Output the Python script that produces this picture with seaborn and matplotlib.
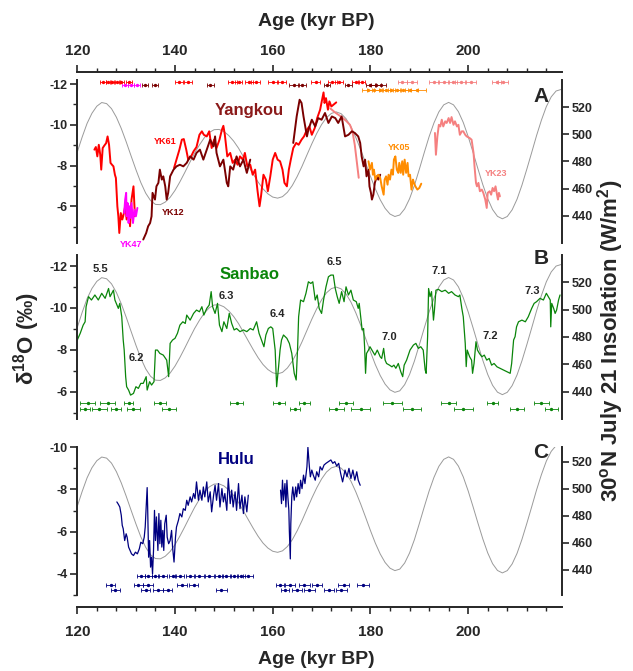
import matplotlib
matplotlib.use("Agg")
import matplotlib.pyplot as plt
from matplotlib.ticker import MultipleLocator
import seaborn as sns

# 30N July 21 insolation (W/m2), every 1 kyr
ins_age = list(range(120, 220))
ins_wm2 = [487, 498, 508, 515.5, 520.7, 523.4, 522.6, 518.9, 512.6, 504.3,
           494.6, 484.2, 474.0, 464.5, 456.7, 451.2, 448.4, 448.2, 450.1, 453.6,
           458.7, 465.0, 471.9, 479.1, 486.1, 492.2, 497.5, 501.3, 503.4, 503.6,
           502.1, 499.1, 495.0, 489.8, 483.5, 477.1, 470.8, 464.9, 459.9, 456.2,
           453.8, 453.0, 454.1, 457.3, 462.3, 468.9, 476.5, 484.8, 493.0, 500.6,
           507.2, 512.3, 515.4, 516.5, 515.2, 511.5, 505.6, 497.7, 488.7, 479.0,
           469.1, 459.8, 451.8, 445.5, 441.3, 439.5, 440.6, 445.1, 452.5, 462.4,
           474.2, 486.4, 498.2, 508.4, 516.5, 521.7, 523.5, 521.7, 516.7, 508.7,
           498.4, 486.7, 474.6, 462.9, 452.6, 444.6, 439.6, 437.8, 439.5, 444.4,
           452.2, 462.5, 474.3, 486.6, 499.1, 510.5, 520.4, 527.6, 531.9, 533.0]

# ---- Yangkou ----
yk61a_age = [123.5, 123.8, 124.1, 124.4, 124.7, 124.9, 125.2, 125.5, 125.9, 126.2,
             126.5, 126.8, 127.1, 127.4, 127.7, 127.9, 128.2, 128.4, 128.6, 128.9,
             129.2, 129.4, 129.8, 130.1, 130.5, 130.8, 131.1, 131.5, 131.8]
yk61a_d18o = [-8.78, -8.91, -8.45, -9.02, -8.53, -7.80, -8.86, -8.97, -9.10, -9.43,
              -9.02, -8.13, -8.04, -7.96, -7.55, -7.39, -6.00, -5.51, -4.69, -5.67,
              -5.35, -5.51, -6.00, -5.35, -5.84, -5.02, -6.33, -6.98, -5.51]
yk61b_age = [139.8, 140.3, 140.9, 141.4, 141.8, 142.3, 142.7, 143.3, 143.8, 144.4,
             145.0, 145.5, 145.9, 146.5, 147.0, 147.5, 148.0, 148.5, 149.1, 149.6,
             149.9, 150.2, 150.7, 151.3, 151.8, 152.3, 152.8, 153.3, 153.9, 154.3,
             154.8, 155.4, 155.9, 156.4, 156.9, 157.3, 157.6, 158.1, 158.6, 159.0,
             159.5, 160.0, 160.5, 161.0, 161.5, 162.0, 162.4, 162.9, 163.3, 163.7,
             164.2, 164.8, 165.3, 165.9, 166.4, 167.0, 167.5, 168.0, 168.6, 169.1,
             169.7, 170.1, 170.4, 170.6, 170.9, 171.3, 171.6, 172.0, 172.4, 173.0]
yk61b_d18o = [-7.88, -8.29, -8.78, -9.27, -9.30, -8.78, -8.29, -8.45, -8.70, -8.91,
              -9.51, -9.68, -9.51, -9.43, -9.68, -8.86, -9.27, -8.86, -9.27, -9.76,
              -9.95, -9.51, -8.45, -8.62, -8.13, -8.29, -8.04, -8.45, -8.29, -8.62,
              -7.96, -8.04, -7.55, -7.80, -6.74, -6.00, -6.49, -7.55, -7.31, -6.74,
              -7.47, -8.29, -8.62, -8.29, -8.21, -7.80, -7.15, -6.98, -7.80, -8.29,
              -8.86, -9.11, -9.02, -9.27, -9.43, -9.76, -9.92, -9.51, -9.84, -10.33,
              -10.74, -11.23, -11.59, -11.07, -11.31, -10.74, -11.15, -10.90, -10.98, -11.10]
yk12a_age = [133.5, 134.1, 134.5, 134.9, 135.2, 135.4, 135.9, 136.2, 136.6, 136.9,
             137.3, 137.6, 138.0, 138.3, 138.6, 139.0, 139.7, 140.3, 141.0, 141.7,
             142.4, 143.1, 143.8, 144.4, 145.1, 145.8, 146.5, 147.2, 147.9, 148.2,
             148.5, 149.2, 149.9, 150.6, 150.9, 151.3, 151.9, 152.6, 153.3, 154.0,
             154.7, 155.4]
yk12a_d18o = [-4.37, -4.69, -5.02, -5.18, -5.51, -6.66, -6.33, -6.98, -7.15, -7.80,
              -7.31, -7.47, -6.98, -6.33, -6.66, -7.47, -7.80, -7.96, -8.04, -7.96,
              -8.13, -8.45, -8.29, -8.62, -8.78, -8.29, -8.78, -9.27, -8.94, -9.43,
              -8.62, -7.96, -8.29, -7.15, -6.98, -7.96, -7.80, -8.45, -7.96, -8.29,
              -7.64, -8.29]
yk12b_age = [164.2, 164.9, 165.5, 165.9, 166.3, 167.0, 167.3, 168.0, 168.7, 169.3,
             170.0, 170.7, 171.4, 172.1, 172.8, 173.4, 174.1, 174.8, 175.5, 176.2,
             176.8, 177.5, 177.9, 178.2, 178.6, 178.9, 179.2, 179.6, 179.8, 180.1,
             180.3, 180.6, 180.9, 181.3, 181.6, 182.0]
yk12b_d18o = [-9.11, -10.41, -11.23, -11.07, -10.41, -9.43, -9.76, -10.25, -9.92, -10.33,
              -10.25, -10.58, -10.09, -10.41, -10.33, -10.09, -10.41, -9.43, -9.51, -9.68,
              -9.60, -9.43, -9.11, -8.45, -7.96, -8.29, -7.47, -7.80, -6.98, -6.66,
              -6.33, -6.57, -7.15, -7.47, -7.31, -7.55]
yk47_age = [129.6, 129.8, 130.0, 130.1, 130.3, 130.5, 130.7, 130.9, 131.1, 131.4,
            131.7, 132.0, 132.3]
yk47_d18o = [-5.67, -6.33, -6.66, -5.51, -6.16, -5.18, -6.00, -5.43, -6.16, -5.18,
             -5.84, -5.51, -5.92]
yk05_age = [179.6, 179.9, 180.3, 180.5, 180.7, 181.0, 181.3, 181.6, 182.0, 182.3,
            182.7, 182.9, 183.2, 183.5, 183.7, 184.0, 184.3, 184.6, 184.8, 185.1,
            185.4, 185.7, 185.9, 186.2, 186.5, 186.7, 187.0, 187.3, 187.6, 187.8,
            188.1, 188.4, 188.7, 188.9, 189.2, 189.6, 190.0, 190.4]
yk05_d18o = [-8.21, -7.80, -8.13, -7.55, -7.80, -7.31, -7.47, -7.55, -7.39, -6.98,
             -6.57, -7.31, -7.47, -7.06, -7.55, -7.31, -7.80, -7.55, -8.29, -8.45,
             -7.80, -7.64, -8.13, -7.64, -8.21, -7.55, -8.29, -7.64, -8.13, -7.47,
             -7.55, -6.82, -7.31, -7.15, -6.98, -6.82, -6.90, -7.11]
yk23a_age = [171.8, 172.8, 174.0, 175.0, 175.8, 176.3, 176.8, 177.2, 177.6]
yk23a_d18o = [-10.8, -10.6, -10.4, -10.2, -10.0, -9.7, -9.0, -8.2, -7.4]
yk23b_age = [193.2, 193.4, 193.7, 194.0, 194.3, 194.6, 194.9, 195.3, 195.6, 196.0,
             196.3, 196.6, 197.0, 197.3, 197.7, 198.0, 198.3, 198.7, 199.0, 199.4,
             199.7, 200.3, 200.7, 201.1, 201.3, 201.6, 201.8, 202.1, 202.4, 202.8,
             203.1, 203.5, 203.8, 204.0, 204.4, 204.7, 205.0, 205.3, 205.6, 205.9,
             206.1, 206.3, 206.5]
yk23b_d18o = [-9.60, -8.53, -9.43, -10.00, -9.92, -10.25, -9.92, -10.17, -10.09, -10.33,
              -10.09, -10.38, -10.00, -10.17, -9.92, -10.00, -9.51, -9.68, -9.68, -9.51,
              -9.43, -9.35, -9.27, -8.62, -7.96, -7.15, -6.98, -7.15, -6.74, -6.82,
              -6.66, -6.33, -5.92, -6.66, -6.74, -6.57, -6.90, -6.74, -6.98, -6.57,
              -6.33, -6.66, -6.49]

# U-Th dates (age, 2-sigma half width) drawn as the small bars along the top
yk61_dates = [125.3, 126.3, 127.2, 128.2, 129.0, 130.6, 140.8, 142.6, 151.7, 153.0,
              155.2, 156.5, 160.0, 161.8, 168.8, 172.2, 173.5, 177.0, 178.2]
yk61_err = [0.6, 0.5, 0.5, 0.6, 0.5, 0.6, 0.8, 0.8, 0.9, 0.7,
            0.8, 0.9, 1.0, 1.0, 0.9, 0.9, 0.8, 0.7, 0.7]
yk47_dates = [129.8, 131.0, 132.2]
yk47_err = [0.6, 0.6, 0.6]
yk12_dates = [133.9, 135.9, 147.2, 164.3, 166.0, 171.1, 175.5, 180.0, 181.2, 182.2]
yk12_err = [0.6, 0.6, 0.7, 1.0, 0.9, 0.7, 0.8, 1.0, 1.0, 1.0]
yk05_dates = [179.5, 180.8, 182.0, 183.2, 184.3, 185.5, 186.7, 188.0, 189.5]
yk05_err = [1.3, 1.5, 1.6, 1.4, 1.7, 1.5, 1.6, 1.8, 1.9]
yk23_dates = [186.5, 188.5, 193.0, 195.0, 196.8, 198.5, 200.5, 205.8, 207.2]
yk23_err = [0.9, 1.0, 1.0, 1.1, 1.0, 1.1, 1.2, 1.0, 1.0]

# ---- Sanbao ----
sanbao_age = [120.0, 120.6, 121.2, 121.6, 121.8, 122.3, 122.9, 123.6, 124.3, 125.0,
              125.7, 126.4, 126.7, 127.4, 127.7, 128.4, 128.7, 129.1, 129.4, 129.6,
              129.9, 130.1, 130.5, 130.9, 131.5, 132.0, 132.5, 133.0, 133.5, 134.1,
              134.3, 134.8, 135.2, 135.7, 136.0, 136.4, 136.9, 137.6, 138.3, 138.7,
              139.0, 139.5, 140.0, 140.5, 141.0, 141.6, 142.1, 142.4, 143.1, 143.8,
              144.4, 145.0, 145.5, 145.9, 146.5, 147.0, 147.4, 147.7, 148.2, 148.7,
              149.1, 149.6, 150.0, 150.6, 151.1, 151.6, 152.1, 152.6, 153.3, 154.0,
              154.7, 155.4, 156.0, 156.7, 157.2, 157.7, 158.2, 158.6, 159.1, 159.6,
              160.0, 160.5, 160.8, 161.2, 161.5, 161.8, 162.2, 162.9, 163.4, 163.9,
              164.4, 164.8, 165.1, 165.3, 165.7, 166.3, 166.8, 167.3, 167.8, 168.2,
              168.7, 169.1, 169.5, 170.0, 170.4, 170.9, 171.4, 171.9, 172.4, 172.8,
              173.2, 173.6, 174.1, 174.6, 175.0, 175.5, 176.0, 176.5, 177.1, 177.5,
              177.7, 178.0, 178.3, 178.6, 178.8, 179.0, 179.2, 179.6, 179.9, 180.5,
              180.9, 181.4, 182.0, 182.3, 182.7, 183.0, 183.3, 183.9, 184.4, 184.8,
              185.2, 185.7, 186.2, 186.6, 186.9, 187.4, 188.1, 188.8, 189.3, 189.8,
              190.3, 190.8, 191.2, 191.4, 191.7, 191.9, 192.2, 192.5, 192.9, 193.1,
              193.4, 193.9, 194.6, 195.3, 196.0, 196.6, 197.3, 198.0, 198.3, 198.7,
              199.0, 199.4, 199.6, 199.8, 200.3, 200.7, 200.9, 201.2, 201.6, 201.9,
              202.3, 202.8, 203.3, 203.8, 204.3, 204.8, 205.3, 205.9, 206.5, 207.2,
              207.9, 208.6, 208.9, 209.3, 209.6, 209.9, 210.3, 211.0, 211.7, 212.3,
              213.0, 213.5, 214.0, 214.7, 215.4, 216.0, 216.4, 216.8, 216.9, 217.1,
              217.5, 217.8, 218.1, 218.5, 218.8]
sanbao_d18o = [-8.47, -8.79, -9.18, -9.34, -10.06, -10.54, -10.38, -10.62, -10.38, -10.70,
               -10.46, -10.93, -10.54, -10.85, -10.38, -9.98, -10.22, -9.58, -8.47, -7.99,
               -6.72, -6.24, -6.08, -5.84, -5.92, -6.24, -6.16, -6.40, -6.40, -6.72,
               -6.08, -6.48, -6.32, -6.48, -7.99, -7.99, -7.83, -7.75, -7.51, -6.72,
               -8.31, -8.47, -8.55, -8.79, -9.18, -9.34, -9.26, -9.66, -9.42, -9.74,
               -9.90, -9.82, -10.06, -9.66, -9.98, -10.14, -10.78, -10.06, -9.74, -10.22,
               -9.18, -8.87, -9.34, -9.02, -9.74, -9.26, -8.95, -9.02, -8.87, -8.95,
               -8.87, -9.02, -8.95, -9.34, -8.79, -8.47, -8.15, -8.71, -9.02, -9.10,
               -9.02, -7.99, -6.24, -7.20, -7.99, -8.47, -8.71, -8.55, -8.31, -7.83,
               -6.88, -6.56, -8.15, -9.58, -10.38, -10.30, -10.70, -11.25, -11.17, -11.25,
               -10.38, -10.62, -9.98, -9.74, -10.38, -11.01, -11.49, -11.57, -11.57, -10.93,
               -10.54, -10.22, -10.78, -10.30, -11.01, -10.62, -10.85, -10.38, -10.30, -9.98,
               -10.22, -9.58, -8.95, -9.02, -8.15, -6.88, -7.83, -7.99, -8.15, -7.91,
               -7.75, -7.99, -7.67, -7.59, -8.07, -7.51, -7.35, -7.27, -7.19, -7.27,
               -7.12, -7.35, -6.96, -6.72, -7.27, -7.51, -7.99, -8.23, -8.31, -8.07,
               -8.15, -7.99, -7.04, -6.88, -8.63, -10.93, -10.54, -10.78, -9.42, -9.90,
               -10.85, -10.89, -10.78, -10.85, -10.70, -10.78, -10.62, -10.54, -10.62, -9.98,
               -9.58, -8.31, -7.20, -7.99, -7.67, -7.51, -6.88, -7.35, -8.39, -7.99,
               -7.83, -7.67, -7.75, -7.51, -7.59, -7.27, -7.35, -7.19, -7.12, -7.04,
               -6.96, -6.88, -7.35, -8.47, -8.63, -9.10, -9.34, -9.42, -9.34, -9.58,
               -9.98, -10.22, -10.30, -10.46, -10.38, -10.70, -10.54, -10.38, -9.10, -10.22,
               -9.98, -9.74, -9.90, -10.38, -10.62]
sanbao_dates1 = [122.1, 126.2, 130.5, 137.0, 152.6, 161.3, 166.5, 175.0, 184.5, 196.0, 205.0, 215.0]
sanbao_err1 = [1.5, 1.5, 1.0, 1.2, 1.3, 1.3, 1.2, 1.5, 2.0, 1.5, 1.2, 1.5]
sanbao_dates2 = [121.5, 124.5, 128.0, 131.5, 138.8, 164.5, 173.0, 178.0, 188.5, 199.0, 210.0, 217.0]
sanbao_err2 = [1.0, 1.5, 1.0, 1.3, 1.5, 1.0, 1.5, 2.0, 1.8, 2.0, 1.5, 1.3]

# ---- Hulu ----
hulua_age = [128.1, 128.4, 128.7, 129.0, 129.2, 129.4, 129.7, 130.0, 130.2, 130.5,
             130.8, 131.1, 131.5, 131.9, 132.3, 132.7, 133.0, 133.4, 133.7, 133.9,
             134.1, 134.3, 134.4, 134.6, 134.8, 135.0, 135.2, 135.4, 135.6, 135.8,
             136.0, 136.2, 136.5, 136.7, 136.9, 137.1, 137.3, 137.5, 137.7, 137.9,
             138.2, 138.4, 138.7, 139.0, 139.3, 139.5, 139.8, 140.1, 140.3, 140.7,
             141.0, 141.4, 141.7, 142.1, 142.4, 142.7, 143.1, 143.4, 143.8, 144.1,
             144.4, 144.8, 145.1, 145.5, 145.8, 146.1, 146.5, 146.8, 147.2, 147.5,
             147.9, 148.2, 148.5, 148.9, 149.2, 149.6, 149.9, 150.2, 150.6, 150.9,
             151.3, 151.6, 151.9, 152.3, 152.6, 153.0, 153.3, 153.7, 154.0, 154.3,
             154.7, 155.0]
hulua_d18o = [-7.41, -7.30, -7.17, -6.78, -6.30, -6.14, -5.58, -5.90, -5.74, -5.27,
              -5.11, -4.95, -4.87, -5.03, -4.95, -5.19, -5.50, -5.43, -5.74, -6.22,
              -7.17, -8.09, -7.17, -4.79, -5.58, -4.32, -4.79, -4.00, -5.11, -7.01,
              -5.58, -6.70, -5.11, -6.86, -5.43, -6.54, -5.27, -6.06, -5.11, -6.38,
              -6.78, -5.74, -5.43, -5.58, -6.06, -5.27, -4.56, -5.74, -6.22, -6.54,
              -6.86, -6.70, -7.09, -7.01, -7.49, -7.25, -7.65, -7.41, -7.81, -7.57,
              -8.36, -7.49, -7.97, -7.49, -8.12, -7.65, -8.36, -7.41, -7.89, -6.94,
              -7.73, -8.20, -7.49, -8.28, -7.17, -8.04, -7.41, -7.81, -7.01, -8.52,
              -7.33, -7.97, -7.17, -7.89, -7.01, -8.28, -7.09, -7.73, -6.86, -7.65,
              -6.94, -7.73]
hulub_age = [161.6, 161.8, 162.0, 162.2, 162.5, 162.7, 162.9, 163.1, 163.3, 163.4,
             163.6, 163.7, 163.9, 164.1, 164.4, 164.7, 164.9, 165.2, 165.5, 165.7,
             166.0, 166.3, 166.6, 167.0, 167.2, 167.5, 167.7, 168.0, 168.3, 168.7,
             169.0, 169.4, 169.7, 170.1, 170.5, 170.9, 171.4, 171.9, 172.3, 172.7,
             173.1, 173.5, 173.9, 174.3, 174.8, 175.2, 175.6, 176.0, 176.4, 176.8,
             177.2, 177.5, 177.9]
hulub_d18o = [-7.97, -7.33, -8.44, -7.49, -8.28, -7.17, -8.44, -7.65, -7.01, -6.06,
              -4.71, -6.38, -7.65, -8.12, -7.49, -8.12, -7.65, -8.28, -7.81, -8.44,
              -8.04, -8.68, -8.28, -9.08, -10.00, -9.08, -8.60, -8.92, -8.68, -8.44,
              -8.84, -8.60, -9.08, -8.92, -9.16, -9.24, -9.32, -9.40, -9.24, -9.32,
              -9.11, -9.24, -8.76, -8.36, -8.92, -8.60, -9.00, -8.52, -8.92, -8.44,
              -8.84, -8.44, -8.20]
hulu_dates1 = [133.0, 134.5, 136.0, 137.5, 139.5, 141.0, 143.0, 145.0, 147.0, 149.0,
               150.5, 152.0, 153.5, 155.0]
hulu_err1 = [0.8, 0.7, 0.8, 0.9, 0.8, 0.9, 0.8, 1.0, 0.9, 0.8, 0.9, 0.8, 0.9, 1.0]
hulu_dates2 = [126.8, 132.5, 134.5, 141.5, 143.8, 161.5, 163.5, 166.5, 169.0, 174.5, 178.5]
hulu_err2 = [0.9, 0.9, 1.0, 1.0, 0.9, 0.8, 1.0, 1.1, 1.0, 1.1, 1.2]
hulu_dates3 = [127.8, 134.0, 136.5, 138.5, 149.5, 162.5, 165.0, 167.5, 171.5, 174.0]
hulu_err3 = [1.0, 0.9, 1.0, 0.9, 1.2, 0.9, 1.0, 1.1, 1.0, 1.1]

# marine isotope substage labels in the Sanbao panel
mis_labels = ["5.5", "6.2", "6.3", "6.4", "6.5", "7.0", "7.1", "7.2", "7.3"]
mis_age = [124.7, 132.0, 150.6, 160.9, 172.7, 183.8, 194.1, 204.5, 213.1]
mis_d18o = [-11.86, -7.59, -10.57, -9.71, -12.18, -8.63, -11.78, -8.66, -10.82]

sns.set_style("ticks")
plt.rcParams['font.family'] = ['Liberation Sans', 'DejaVu Sans']
plt.rcParams['font.weight'] = 'bold'
plt.rcParams['axes.unicode_minus'] = False
plt.rcParams['mathtext.fontset'] = 'custom'
plt.rcParams['mathtext.rm'] = 'Liberation Sans:bold'
plt.rcParams['mathtext.default'] = 'rm'

GREY = '#9a9a9a'
RED, MAROON, MAGENTA, ORANGE, PINK = '#ff0000', '#7a0000', '#ff00ff', '#ff8c00', '#f58080'
GREEN, NAVY = '#0a850a', '#000080'

fig = plt.figure(figsize=(6.33, 6.71), dpi=100)
axA = fig.add_axes([0.1221, 0.6379, 0.7657, 0.2429])
axB = fig.add_axes([0.1221, 0.3756, 0.7657, 0.2444])
axC = fig.add_axes([0.1221, 0.1133, 0.7657, 0.2201])
panels = [(axA, (-4.2, -12.2), (420, 540), 'A', -11.39),
          (axB, (-4.7, -12.53), (420, 540), 'B', -12.38),
          (axC, (-3, -10), (421.5, 530.6), 'C', -9.73)]


def trace(ax, age, vals, color, lw):
    sns.lineplot(x=age, y=vals, ax=ax, color=color, lw=lw, sort=False,
                 estimator=None, legend=False)


def dates(ax, age, err, level, color):
    ax.errorbar(age, [level] * len(age), xerr=err, fmt='o', ms=1.4, color=color,
                elinewidth=0.6, capsize=1.2, capthick=0.6)


twins = []
for ax, ylim, inslim, letter, ly in panels:
    tw = ax.twinx()
    twins.append(tw)
    trace(tw, ins_age, ins_wm2, GREY, 0.7)
    tw.set_ylim(*inslim)
    tw.set_yticks([440, 460, 480, 500, 520])
    for s in ['top', 'bottom', 'left']:
        tw.spines[s].set_visible(False)
    tw.spines['right'].set_linewidth(1.4)
    tw.tick_params(axis='y', direction='out', length=5, width=1.2, labelsize=9, pad=2)
    tw.set_ylabel('')
    ax.set_zorder(tw.get_zorder() + 1)
    ax.patch.set_visible(False)
    ax.set_xlim(120, 219.2)
    tw.set_xlim(120, 219.2)
    ax.set_ylim(*ylim)
    ax.yaxis.set_major_locator(MultipleLocator(2))
    ax.yaxis.set_minor_locator(MultipleLocator(1))
    ax.xaxis.set_major_locator(MultipleLocator(20))
    ax.xaxis.set_minor_locator(MultipleLocator(4))
    for s in ['top', 'bottom', 'right']:
        ax.spines[s].set_visible(False)
    for s in ['left', 'top', 'bottom']:
        ax.spines[s].set_linewidth(1.4)
    ax.tick_params(axis='y', which='major', direction='out', length=5, width=1.2,
                   labelsize=9, pad=2)
    ax.tick_params(axis='y', which='minor', direction='out', length=3, width=1.0)
    ax.tick_params(axis='x', which='both', bottom=False, top=False,
                   labelbottom=False, labeltop=False)
    ax.text(214.9, ly, letter, fontsize=15, fontweight='bold', ha='center', va='center')

# panel A: Yangkou
trace(axA, yk23a_age, yk23a_d18o, PINK, 1.4)
trace(axA, yk23b_age, yk23b_d18o, PINK, 1.4)
trace(axA, yk61a_age, yk61a_d18o, RED, 1.4)
trace(axA, yk61b_age, yk61b_d18o, RED, 1.4)
trace(axA, yk12a_age, yk12a_d18o, MAROON, 1.4)
trace(axA, yk12b_age, yk12b_d18o, MAROON, 1.4)
trace(axA, yk47_age, yk47_d18o, MAGENTA, 1.4)
trace(axA, yk05_age, yk05_d18o, ORANGE, 1.4)
dates(axA, yk61_dates, yk61_err, -12.12, RED)
dates(axA, yk12_dates, yk12_err, -11.95, MAROON)
dates(axA, yk47_dates, yk47_err, -11.95, MAGENTA)
dates(axA, yk23_dates, yk23_err, -12.1, PINK)
dates(axA, yk05_dates, yk05_err, -11.7, ORANGE)
axA.text(155.2, -10.7, 'Yangkou', color='#8b1a1a', fontsize=12, fontweight='bold',
         ha='center', va='center')
for name, x, y, c in [('YK61', 138.0, -9.17, RED), ('YK12', 139.6, -5.71, MAROON),
                      ('YK47', 131.0, -4.12, MAGENTA), ('YK05', 185.9, -8.88, ORANGE),
                      ('YK23', 205.8, -7.6, PINK)]:
    axA.text(x, y, name, color=c, fontsize=6.5, fontweight='bold', ha='center', va='center')

axA.spines['top'].set_visible(True)
axA.spines['top'].set_position(('outward', 5.8))
axA.tick_params(axis='x', which='both', top=True, labeltop=True, direction='out')
axA.tick_params(axis='x', which='major', length=5, width=1.2, labelsize=11, pad=5)
axA.tick_params(axis='x', which='minor', length=3, width=1.0)

# panel B: Sanbao
trace(axB, sanbao_age, sanbao_d18o, GREEN, 0.9)
dates(axB, sanbao_dates1, sanbao_err1, -5.45, GREEN)
dates(axB, sanbao_dates2, sanbao_err2, -5.2, GREEN)
axB.text(155.2, -11.62, 'Sanbao', color=GREEN, fontsize=12, fontweight='bold',
         ha='center', va='center')
for lab, x, y in zip(mis_labels, mis_age, mis_d18o):
    axB.text(x, y, lab, fontsize=8, fontweight='bold', ha='center', va='center')

# panel C: Hulu
trace(axC, hulua_age, hulua_d18o, NAVY, 0.9)
trace(axC, hulub_age, hulub_d18o, NAVY, 0.9)
dates(axC, hulu_dates1, hulu_err1, -3.9, NAVY)
dates(axC, hulu_dates2, hulu_err2, -3.45, NAVY)
dates(axC, hulu_dates3, hulu_err3, -3.25, NAVY)
axC.text(152.5, -9.44, 'Hulu', color=NAVY, fontsize=12, fontweight='bold',
         ha='center', va='center')
axC.spines['bottom'].set_visible(True)
axC.spines['bottom'].set_position(('outward', 8.6))
axC.tick_params(axis='x', which='both', bottom=True, labelbottom=True, direction='out')
axC.tick_params(axis='x', which='major', length=5, width=1.2, labelsize=11, pad=8)
axC.tick_params(axis='x', which='minor', length=3, width=1.0)

for ax in [axA, axB, axC]:
    ax.set_xlabel('')
    ax.set_ylabel('')

fig.text(0.5, 1 - 22 / 671, 'Age (kyr BP)', fontsize=14, fontweight='bold',
         ha='center', va='center')
fig.text(0.5, 1 - 659 / 671, 'Age (kyr BP)', fontsize=14, fontweight='bold',
         ha='center', va='center')
fig.text(27 / 633, 1 - 338 / 671, 'δ$^{18}$O (‰)', fontsize=16, fontweight='bold',
         rotation=90, ha='center', va='center')
fig.text(611 / 633, 1 - 341 / 671, '30$^{o}$N July 21 Insolation (W/m$^{2}$)',
         fontsize=16, fontweight='bold', rotation=90, ha='center', va='center')

fig.savefig('out.png', dpi=100)
